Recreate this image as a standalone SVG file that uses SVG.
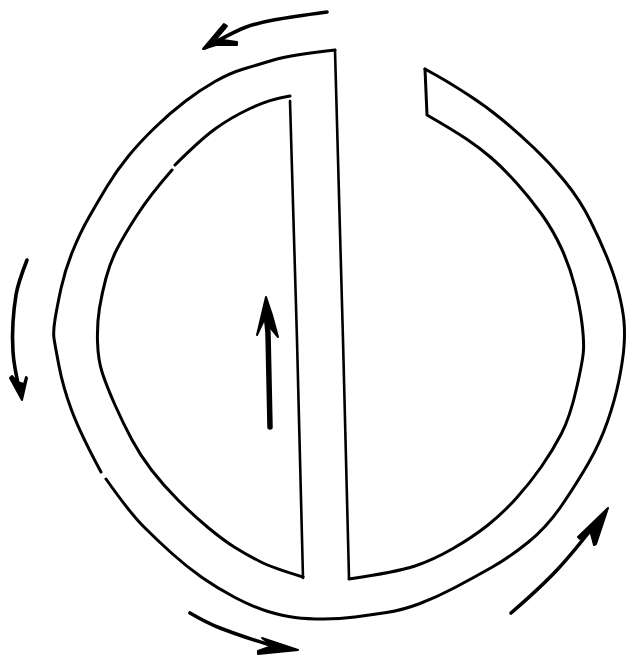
<svg xmlns="http://www.w3.org/2000/svg" width="626" height="660" viewBox="0 0 626 660">
<style>
.l{fill:none;stroke:#000;stroke-width:3;stroke-linecap:round;stroke-linejoin:round}
.d{fill:none;stroke:#000;stroke-width:2.6;stroke-linecap:round;stroke-linejoin:round}
.a{fill:none;stroke:#000;stroke-width:3.6;stroke-linecap:round;stroke-linejoin:round}
.h{fill:#000;stroke:#000;stroke-width:2;stroke-linejoin:round}
</style>
<rect width="626" height="660" fill="#fff"/>
<g id="outer-wall">
<path class="l" d="M425,69 L437.5,76 Q450,83 468.5,95 Q487,107 502,119.5 Q517,132 533.5,147.5 Q550,163 565,181.5 Q580,200 590,220 Q600,240 607.5,258.5 Q615,277 619,293.5 Q623,310 624,321.5 Q625,333 624,346.5 Q623,360 619,380 Q615,400 607.5,421.5 Q600,443 588.5,463 Q577,483 562,505 Q547,527 528.5,542 Q510,557 491.5,567.5 Q473,578 455,587.5 Q437,597 420,603.5 Q403,610 386.5,612.5 Q370,615 355,617 Q340,619 323.5,619 Q307,619 295,617.5 Q283,616 268,611.5 Q253,607 235,597.5 Q217,588 202,577.5 Q187,567 172,553.5 Q157,540 143.5,526.5 Q130,513 106,479"/>
<path class="l" d="M101,472 Q80,433 71.5,410 Q63,387 59,366 Q55,345 54,338.5 Q53,332 55,319.5 Q57,307 61,288.5 Q65,270 72.5,251.5 Q80,233 88.5,218 Q97,203 107,186.5 Q117,170 128.5,156 Q140,142 155,127.5 Q170,113 185,101.5 Q200,90 215,81.5 Q230,73 243.5,69 Q257,65 273.5,60 Q290,55 335,50"/>
<polyline class="d" points="335,50 343,340 349,578"/>
<path class="l" d="M349,579 Q397,572 415,566 Q433,560 453,548.5 Q473,537 488,525 Q503,513 516.5,498 Q530,483 541.5,466.5 Q553,450 561.5,433.5 Q570,417 576.5,388.5 Q583,360 583.5,350 Q584,340 582,323.5 Q580,307 575,287 Q570,267 561.5,248.5 Q553,230 541.5,214 Q530,198 516.5,183 Q503,168 491.5,158 Q480,148 466.5,139 Q453,130 427,115 L425,69"/>
</g>
<g id="inner-chamber">
<path class="l" d="M290,96 Q270,99 250,108.5 Q230,118 215,129 Q200,140 175,165"/>
<path class="l" d="M172,170 Q150,195 136.5,216 Q123,237 116.5,250 Q110,263 106,278 Q102,293 99.5,308 Q97,323 97.5,341.5 Q98,360 102.5,373.5 Q107,387 115,405 Q123,423 131.5,439 Q140,455 151.5,470 Q163,485 178,500 Q193,515 208,527.5 Q223,540 235,547.5 Q247,555 260,561.5 Q273,568 303,577"/>
<polyline class="d" points="290,101 297,340 303,578"/>
</g>
<g id="connectors">
<g id="arrow-top">
<path class="a" d="M327,12 Q290,17 273.5,20 Q257,23 245,27.5 Q233,32 205,48"/>
<polygon class="h" points="203,49 224,24 227,26 216,39 237,42 237,45 216,45"/>
</g>
<g id="arrow-left">
<path class="a" d="M27,260 Q18,283 16,295 Q14,307 13,322 Q12,337 13,352 Q14,367 20,392"/>
<polygon class="h" points="22,400 10,378 12,376 17,382 24,384 26,377 27,378"/>
</g>
<g id="arrow-bottom">
<path class="a" d="M190,613 Q207,623 220,628 Q233,633 246.5,637.5 Q260,642 280,648"/>
<polygon class="h" points="298,650 262,638 272,646 258,651 258,654"/>
</g>
<g id="arrow-right">
<path class="a" d="M511,613 Q540,588 556.5,570.5 Q573,553 600,518"/>
<polygon class="h" points="608,508 578,537 580,539 590,530 594,545 596,544"/>
</g>
<g id="arrow-center">
<path d="M266,312 L268,333 L270,427" fill="none" stroke="#000" stroke-width="5.5" stroke-linecap="round" stroke-linejoin="round"/>
<polygon class="h" points="266,297 257,335 264,320 268,325 278,337 272,315"/>
</g>
</g>
</svg>
